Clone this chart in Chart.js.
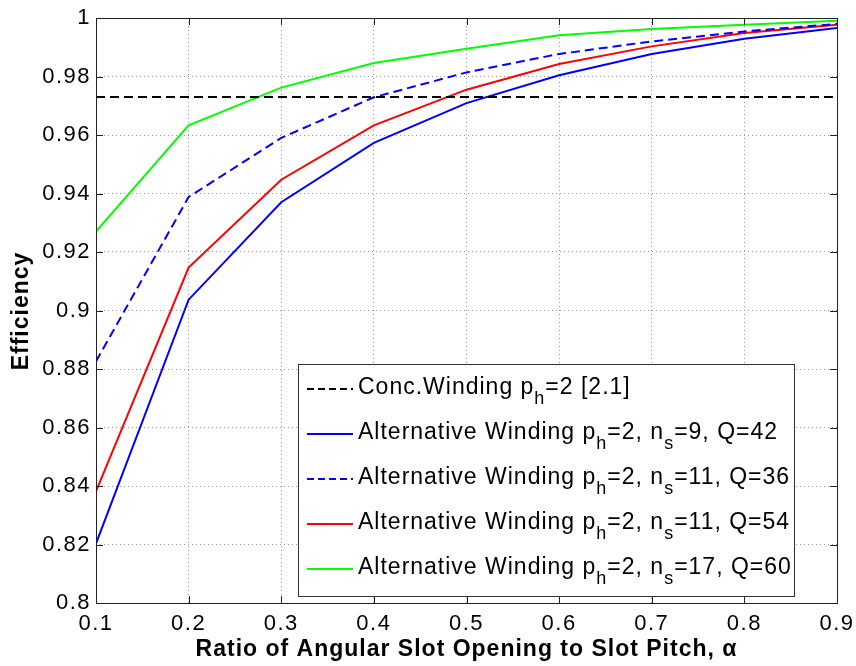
<!DOCTYPE html>
<html>
<head>
<meta charset="utf-8">
<script src="https://cdn.jsdelivr.net/npm/chart.js@4"></script>
<style>
  html, body { margin: 0; padding: 0; background: #fff; }
  #wrap { width: 856px; height: 666px; position: relative; }
</style>
</head>
<body>
<div id="wrap"><canvas id="c" width="856" height="666"></canvas></div>
<script>
// Slot opening ratio (alpha) values
const alpha = [0.1, 0.2, 0.3, 0.4, 0.5, 0.6, 0.7, 0.8, 0.9];

// Efficiency series
const concWinding = [0.973, 0.973, 0.973, 0.973, 0.973, 0.973, 0.973, 0.973, 0.973];
const altQ42 = [0.8203, 0.9037, 0.9370, 0.9573, 0.9709, 0.9804, 0.9877, 0.9929, 0.9966];
const altQ36 = [0.8826, 0.9388, 0.9590, 0.9729, 0.9814, 0.9877, 0.9920, 0.9954, 0.9980];
const altQ54 = [0.8382, 0.9147, 0.9447, 0.9633, 0.9755, 0.9843, 0.9903, 0.9949, 0.9977];
const altQ60 = [0.9270, 0.9633, 0.9762, 0.9846, 0.9895, 0.9941, 0.9962, 0.9977, 0.9991];

// Y tick values
const yTicks = [0.8, 0.82, 0.84, 0.86, 0.88, 0.9, 0.92, 0.94, 0.96, 0.98, 1];

// Axis titles
const xTitle = 'Ratio of Angular Slot Opening to Slot Pitch, α';
const yTitle = 'Efficiency';

// Legend entries: pieces of text, with subscript pieces flagged
const legendEntries = [
  [["Conc.Winding p"], ["h", 1], ["=2 [2.1]"]],
  [["Alternative Winding p"], ["h", 1], ["=2, n"], ["s", 1], ["=9, Q=42"]],
  [["Alternative Winding p"], ["h", 1], ["=2, n"], ["s", 1], ["=11, Q=36"]],
  [["Alternative Winding p"], ["h", 1], ["=2, n"], ["s", 1], ["=11, Q=54"]],
  [["Alternative Winding p"], ["h", 1], ["=2, n"], ["s", 1], ["=17, Q=60"]]
];

const FONT = "Arial, 'Liberation Sans', sans-serif";

function ds(data, color, dash, width) {
  return {
    data: alpha.map((a, i) => ({ x: a, y: data[i] })),
    borderColor: color,
    backgroundColor: color,
    borderWidth: width,
    borderDash: dash,
    pointRadius: 0,
    tension: 0,
    fill: false
  };
}

// Slightly wider text spacing for tick labels
const spacingPlugin = {
  id: 'spacing',
  beforeDraw(chart) { chart.ctx.letterSpacing = '1.5px'; }
};

// Frame, inward ticks, axis titles and legend box
const framePlugin = {
  id: 'frame',
  afterDatasetsDraw(chart) {
    const { ctx, chartArea: a, scales } = chart;
    ctx.save();
    ctx.strokeStyle = '#222';
    ctx.lineWidth = 1;
    const tl = 7;
    ctx.beginPath();
    alpha.forEach(v => {
      const x = Math.round(scales.x.getPixelForValue(v)) + 0.5;
      ctx.moveTo(x, a.bottom); ctx.lineTo(x, a.bottom - tl);
      ctx.moveTo(x, a.top); ctx.lineTo(x, a.top + tl);
    });
    yTicks.forEach(v => {
      const y = Math.round(scales.y.getPixelForValue(v)) + 0.5;
      ctx.moveTo(a.left, y); ctx.lineTo(a.left + tl, y);
      ctx.moveTo(a.right, y); ctx.lineTo(a.right - tl, y);
    });
    ctx.stroke();
    ctx.strokeRect(Math.round(a.left) + 0.5, Math.round(a.top) + 0.5,
                   Math.round(a.right - a.left), Math.round(a.bottom - a.top));

    // axis titles
    ctx.fillStyle = '#000';
    ctx.letterSpacing = '1px';
    ctx.font = 'bold 23px ' + FONT;
    ctx.textAlign = 'center';
    ctx.textBaseline = 'middle';
    ctx.fillText(xTitle, (a.left + a.right) / 2, 650);
    ctx.save();
    ctx.translate(22, 311);
    ctx.rotate(-Math.PI / 2);
    ctx.fillText(yTitle, 0, 0);
    ctx.restore();

    // legend
    const bx = 298, by = 364, bw = 496, bh = 232;
    ctx.fillStyle = '#fff';
    ctx.fillRect(bx, by, bw, bh);
    ctx.strokeStyle = '#333';
    ctx.lineWidth = 1;
    ctx.strokeRect(bx + 0.5, by + 0.5, bw, bh);
    const rowY = [389, 434, 479, 524, 569];
    chart.data.datasets.forEach((d, i) => {
      const y = rowY[i];
      ctx.beginPath();
      ctx.strokeStyle = d.borderColor;
      ctx.lineWidth = d.borderWidth;
      ctx.setLineDash(d.borderDash && d.borderDash.length ? [7, 4] : []);
      ctx.moveTo(307, y); ctx.lineTo(353, y);
      ctx.stroke();
      ctx.setLineDash([]);
      let x = 358;
      ctx.fillStyle = '#000';
      ctx.textBaseline = 'alphabetic';
      ctx.textAlign = 'left';
      ctx.letterSpacing = '1px';
      legendEntries[i].forEach(p => {
        if (p[1]) {
          ctx.font = '18px ' + FONT;
          ctx.fillText(p[0], x, y + 15);
        } else {
          ctx.font = '23px ' + FONT;
          ctx.fillText(p[0], x, y + 4.5);
        }
        x += ctx.measureText(p[0]).width;
      });
    });
    ctx.restore();
  }
};

new Chart(document.getElementById('c'), {
  type: 'line',
  data: {
    datasets: [
      ds(concWinding, '#000000', [9, 5], 2),
      ds(altQ42, '#0000ff', [], 2),
      ds(altQ36, '#0000ff', [9, 5], 2),
      ds(altQ54, '#ff0000', [], 2),
      ds(altQ60, '#00ff00', [], 2)
    ]
  },
  options: {
    responsive: false,
    animation: false,
    devicePixelRatio: 1,
    layout: { padding: { top: 18, right: 19, left: 0, bottom: 0 } },
    plugins: { legend: { display: false }, tooltip: { enabled: false } },
    scales: {
      x: {
        type: 'linear',
        min: 0.1, max: 0.9,
        afterBuildTicks: s => { s.ticks = alpha.map(v => ({ value: v })); },
        afterFit: s => { s.height = 63; s.paddingLeft = 0; s.paddingRight = 0; },
        grid: { color: '#999', drawTicks: false, lineWidth: 1 },
        border: { display: false, dash: [1, 3] },
        ticks: {
          color: '#000', padding: 8,
          font: { family: FONT, size: 22 },
          callback: v => Number(v.toFixed(2)).toString(),
          maxRotation: 0
        },
        title: { display: false }
      },
      y: {
        type: 'linear',
        min: 0.8, max: 1,
        afterBuildTicks: s => { s.ticks = yTicks.map(v => ({ value: v })); },
        afterFit: s => { s.width = 96; s.paddingTop = 0; s.paddingBottom = 0; },
        grid: { color: '#999', drawTicks: false, lineWidth: 1 },
        border: { display: false, dash: [1, 3] },
        ticks: {
          color: '#000', padding: 5,
          font: { family: FONT, size: 22 },
          callback: v => Number(v.toFixed(2)).toString()
        },
        title: { display: false }
      }
    }
  },
  plugins: [spacingPlugin, framePlugin]
});
</script>
</body>
</html>
